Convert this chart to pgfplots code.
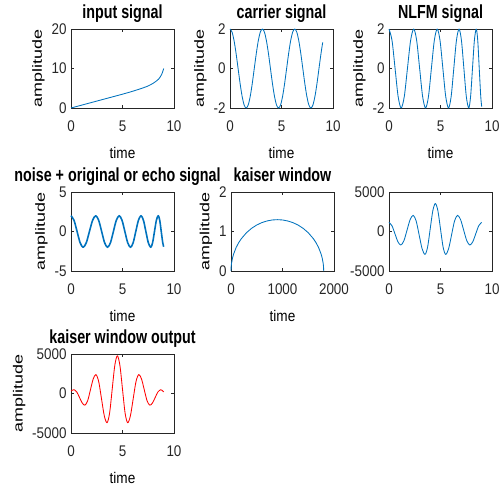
\documentclass[border=0pt]{standalone}
\usepackage{fontspec}
\setmainfont{Liberation Sans}
\usepackage{graphicx}
\usepackage{pgfplots}
\pgfplotsset{compat=1.18}

\definecolor{mblue}{rgb}{0,0.447,0.741}
\definecolor{maxis}{rgb}{0.15,0.15,0.15}

\newcommand\ttl[1]{\scalebox{0.755}[1]{\fontsize{19}{21}\selectfont\bfseries #1}}
\newcommand\xlab[1]{\scalebox{0.88}[1]{\fontsize{15.5}{17}\selectfont #1}}
\newcommand\ylab[1]{\scalebox{1}[0.74]{\fontsize{18}{20}\selectfont #1}}
\newcommand\tlab[1]{\scalebox{0.87}[1]{#1}}

\pgfplotsset{
  mat/.style={
    scale only axis, width=103bp, height=79bp,
    anchor=south west,
    axis line style={draw=maxis, line width=0.7pt},
    every tick/.style={draw=maxis, line width=0.7pt},
    major tick length=3bp,
    tick align=inside,
    scaled ticks=false,
    clip=false,
    /pgf/number format/assume math mode=true,
    /pgf/number format/1000 sep={},
    ticklabel style={font=\fontsize{15.5}{17}\selectfont, text=maxis},
    xticklabel={\tlab{\pgfmathprintnumber{\tick}}},
    yticklabel={\tlab{\pgfmathprintnumber{\tick}}},
    xticklabel style={yshift=-9bp},
    yticklabel style={xshift=-1bp},
    title style={at={(0.5,1)}, anchor=base, yshift=5bp, inner sep=0pt},
    xlabel style={at={(0.5,0)}, anchor=base, yshift=-50bp, inner sep=0pt},
    every axis plot/.append style={line width=0.85pt, line join=round},
  }
}

\begin{document}
\begin{tikzpicture}
\useasboundingbox (0,0) rectangle (503bp,-490bp);

% ---------- row 1 ----------
\begin{axis}[mat, at={(71bp,-108bp)},
  xmin=0, xmax=10, ymin=0, ymax=20, xtick={0,5,10}, ytick={0,10,20},
  title={\ttl{input signal}}, xlabel={\xlab{time}}, ylabel={\ylab{amplitude}}]
\addplot[mblue, smooth] coordinates {
 (0,0) (1,0.7) (2,1.4) (3,2.1) (4,2.8) (5,3.5) (6,4.25) (7,5.1)
 (7.5,5.6) (8,6.3) (8.5,7.3) (8.8,8.5) (9,10)};
\end{axis}

\begin{axis}[mat, at={(230bp,-108bp)},
  xmin=0, xmax=10, ymin=-2, ymax=2, xtick={0,5,10}, ytick={-2,0,2},
  title={\ttl{carrier signal}}, xlabel={\xlab{time}}, ylabel={\ylab{amplitude}}]
\addplot[mblue, smooth] coordinates {
 (0,2) (0.196,1.848) (0.393,1.414) (0.589,0.765) (0.785,0) (0.982,-0.765)
 (1.178,-1.414) (1.374,-1.848) (1.571,-2) (1.767,-1.848) (1.963,-1.414)
 (2.160,-0.765) (2.356,0) (2.553,0.765) (2.749,1.414) (2.945,1.848)
 (3.142,2) (3.338,1.848) (3.534,1.414) (3.731,0.765) (3.927,0)
 (4.123,-0.765) (4.320,-1.414) (4.516,-1.848) (4.712,-2) (4.909,-1.848)
 (5.105,-1.414) (5.301,-0.765) (5.498,0) (5.694,0.765) (5.890,1.414)
 (6.087,1.848) (6.283,2) (6.480,1.848) (6.676,1.414) (6.872,0.765)
 (7.069,0) (7.265,-0.765) (7.461,-1.414) (7.658,-1.848) (7.854,-2)
 (8.050,-1.848) (8.247,-1.414) (8.443,-0.765) (8.639,0) (8.836,0.765)
 (9.000,1.320)};
\end{axis}

\begin{axis}[mat, at={(389bp,-108bp)},
  xmin=0, xmax=10, ymin=-2, ymax=2, xtick={0,5,10}, ytick={-2,0,2},
  title={\ttl{NLFM signal}}, xlabel={\xlab{time}}, ylabel={\ylab{amplitude}}]
\addplot[mblue, smooth] coordinates {
 (0,2) (0.295,1.414) (0.59,0) (0.885,-1.414) (1.18,-2)
 (1.485,-1.414) (1.79,0) (2.095,1.414) (2.40,2)
 (2.6875,1.414) (2.975,0) (3.2625,-1.414) (3.55,-2)
 (3.8325,-1.414) (4.115,0) (4.3975,1.414) (4.68,2)
 (4.955,1.414) (5.23,0) (5.505,-1.414) (5.78,-2)
 (6.035,-1.414) (6.29,0) (6.545,1.414) (6.80,2)
 (7.035,1.414) (7.27,0) (7.505,-1.414) (7.74,-2)
 (7.9225,-1.414) (8.105,0) (8.2875,1.414) (8.47,2)
 (8.616,1.414) (8.761,0) (8.907,-1.414) (9.0,-1.93)};
\end{axis}

% ---------- row 2 ----------
\begin{axis}[mat, at={(71bp,-271bp)},
  xmin=0, xmax=10, ymin=-5, ymax=5, xtick={0,5,10}, ytick={-5,0,5},
  title={\ttl{noise + original or echo signal}},
  title style={xshift=-5bp},
  xlabel={\xlab{time}}, ylabel={\ylab{amplitude}}]
\addplot[mblue, smooth, line width=1.6pt] coordinates {
 (0,2) (0.295,1.414) (0.59,0) (0.885,-1.414) (1.18,-2)
 (1.485,-1.414) (1.79,0) (2.095,1.414) (2.40,2)
 (2.6875,1.414) (2.975,0) (3.2625,-1.414) (3.55,-2)
 (3.8325,-1.414) (4.115,0) (4.3975,1.414) (4.68,2)
 (4.955,1.414) (5.23,0) (5.505,-1.414) (5.78,-2)
 (6.035,-1.414) (6.29,0) (6.545,1.414) (6.80,2)
 (7.035,1.414) (7.27,0) (7.505,-1.414) (7.74,-2)
 (7.9225,-1.414) (8.105,0) (8.2875,1.414) (8.47,2)
 (8.616,1.414) (8.761,0) (8.907,-1.414) (9.0,-1.93)};
\end{axis}

\begin{axis}[mat, at={(231bp,-271bp)},
  xmin=0, xmax=2000, ymin=0, ymax=2, xtick={0,1000,2000}, ytick={0,1,2},
  title={\ttl{kaiser window}}, xlabel={\xlab{time}}, ylabel={\ylab{amplitude}}]
\addplot[mblue] coordinates {
 (0,0) (3,0.106) (10,0.193) (30,0.333) (50,0.427) (100,0.596) (150,0.719)
 (200,0.817) (300,0.969) (400,1.081) (500,1.165) (600,1.226) (700,1.267)
 (800,1.292) (900,1.3) (1000,1.292) (1100,1.267) (1200,1.226) (1300,1.165)
 (1400,1.081) (1500,0.969) (1600,0.817) (1650,0.719) (1700,0.596)
 (1750,0.427) (1770,0.333) (1790,0.193) (1797,0.106) (1800,0)};
\end{axis}

\begin{axis}[mat, at={(389bp,-271bp)},
  xmin=0, xmax=10, ymin=-5000, ymax=5000, xtick={0,5,10}, ytick={-5000,0,5000}]
\addplot[mblue, smooth] coordinates {
 (0,1150) (0.2875,731) (0.575,-280) (0.8625,-1291) (1.15,-1710)
 (1.45,-1159) (1.75,170) (2.05,1499) (2.35,2050)
 (2.6375,1325) (2.925,-425) (3.2125,-2175) (3.5,-2900)
 (3.75,-1955) (4.0,325) (4.25,2605) (4.5,3550)
 (4.75,2605) (5.0,325) (5.25,-1955) (5.5,-2900)
 (5.7875,-2175) (6.075,-425) (6.3625,1325) (6.65,2050)
 (6.95,1499) (7.25,170) (7.55,-1159) (7.85,-1710)
 (8.1375,-1291) (8.425,-280) (8.7125,731) (9.0,1150)};
\end{axis}

% ---------- row 3 ----------
\begin{axis}[mat, at={(71bp,-433bp)},
  xmin=0, xmax=10, ymin=-5000, ymax=5000, xtick={0,5,10}, ytick={-5000,0,5000},
  title={\ttl{kaiser window output}}, xlabel={\xlab{time}}, ylabel={\ylab{amplitude}}]
\addplot[red, smooth] coordinates {
 (0,300) (0.15,430) (0.3,480)
 (0.5625,193) (0.825,-500) (1.0875,-1193) (1.35,-1480)
 (1.6175,-912) (1.885,460) (2.1525,1832) (2.42,2400)
 (2.69,1507) (2.96,-650) (3.23,-2807) (3.5,-3700)
 (3.75,-2458) (4.0,540) (4.25,3538) (4.5,4780)
 (4.75,3538) (5.0,540) (5.25,-2458) (5.5,-3700)
 (5.77,-2807) (6.04,-650) (6.31,1507) (6.58,2400)
 (6.8475,1832) (7.115,460) (7.3825,-912) (7.65,-1480)
 (7.9125,-1193) (8.175,-500) (8.4375,193) (8.7,480)
 (8.85,400) (9.0,200)};
\end{axis}
\end{tikzpicture}
\end{document}
